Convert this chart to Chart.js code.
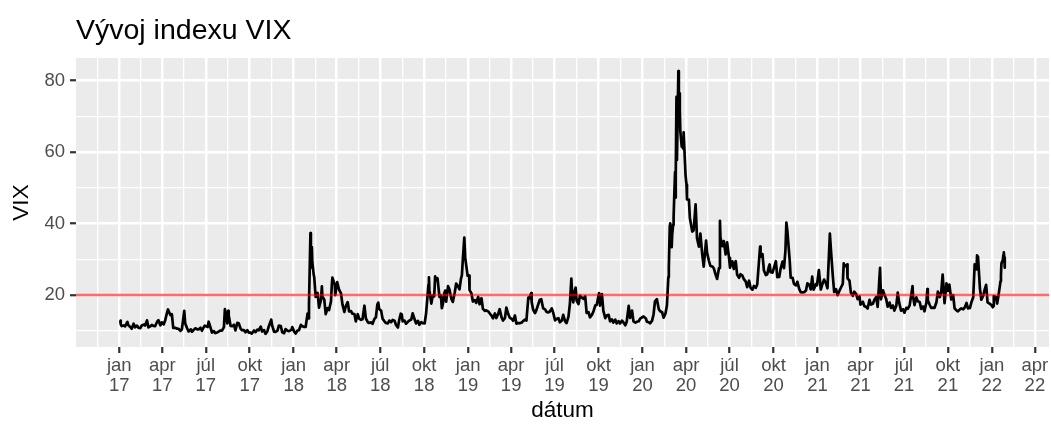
<!DOCTYPE html>
<html lang="sk">
<head>
<meta charset="UTF-8">
<title>Vývoj indexu VIX</title>
<script src="https://cdn.jsdelivr.net/npm/chart.js"></script>
<style>
    html, body { margin: 0; padding: 0; background: #ffffff; }
</style>
</head>
<body>
<canvas id="chart" width="1051" height="425"></canvas>
<script>
// záverečné hodnoty VIX odčítané z grafu: piatky + výkyvy
const dni2017 = ['2017-01-03','2017-01-06','2017-01-13','2017-01-20','2017-01-27','2017-02-03','2017-02-10','2017-02-17','2017-02-24','2017-03-03','2017-03-10','2017-03-17','2017-03-21','2017-03-24','2017-03-31','2017-04-07','2017-04-13','2017-04-18','2017-04-21','2017-04-24','2017-04-28','2017-05-05','2017-05-09','2017-05-12','2017-05-17','2017-05-19','2017-05-26','2017-06-02','2017-06-09','2017-06-16','2017-06-23','2017-06-29','2017-07-07','2017-07-14','2017-07-21','2017-07-26','2017-08-04','2017-08-10','2017-08-11','2017-08-17','2017-08-18','2017-08-25','2017-09-01','2017-09-08','2017-09-15','2017-09-22','2017-09-29','2017-10-05','2017-10-13','2017-10-20','2017-10-27','2017-11-03','2017-11-10','2017-11-15','2017-11-17','2017-11-24','2017-12-01','2017-12-08','2017-12-15','2017-12-22','2017-12-29'];
const vix2017 = [12.85,11.32,11.23,11.54,10.58,10.97,10.85,11.49,11.47,10.96,11.66,11.28,12.47,12.96,12.37,12.87,15.96,14.42,14.63,10.84,10.82,10.57,9.96,10.40,15.59,12.04,9.81,9.75,10.70,10.38,10.02,11.44,12.54,9.51,9.36,9.60,10.03,16.04,15.51,15.55,14.26,11.28,10.13,12.12,10.17,9.59,9.51,9.19,9.61,10.15,9.80,9.14,11.29,13.13,11.43,9.67,11.43,9.58,10.49,9.90,11.04];
// stredy týždňov
const dniStred2017 = ['2017-01-04','2017-01-10','2017-01-18','2017-01-24','2017-01-31','2017-02-07','2017-02-14','2017-02-22','2017-02-28','2017-03-07','2017-03-14','2017-03-28','2017-04-04','2017-04-11','2017-04-26','2017-05-02','2017-05-23','2017-05-31','2017-06-07','2017-06-13','2017-06-20','2017-06-27','2017-07-05','2017-07-11','2017-07-18','2017-08-01','2017-08-08','2017-08-15','2017-08-22','2017-08-29','2017-09-05','2017-09-12','2017-09-19','2017-09-26','2017-10-03','2017-10-10','2017-10-17','2017-10-24','2017-10-31','2017-11-07','2017-11-21','2017-11-28','2017-12-05','2017-12-12','2017-12-19','2017-12-27'];
const vixStred2017 = [11.85,11.49,12.48,11.07,11.99,11.45,10.74,11.74,12.92,11.24,11.35,11.53,11.79,15.07,10.85,10.59,10.72,10.41,10.39,10.42,10.86,11.06,11.07,10.89,9.89,10.09,11.00,12.04,11.35,11.70,12.23,10.58,10.18,10.17,9.51,10.08,10.31,11.16,10.18,9.89,9.73,10.03,11.33,9.34,10.03,10.25];

const dni2018 = ['2018-01-05','2018-01-12','2018-01-19','2018-01-26','2018-01-30','2018-02-02','2018-02-05','2018-02-06','2018-02-07','2018-02-08','2018-02-09','2018-02-13','2018-02-16','2018-02-23','2018-03-01','2018-03-02','2018-03-09','2018-03-16','2018-03-22','2018-03-23','2018-03-28','2018-03-29','2018-04-02','2018-04-06','2018-04-13','2018-04-20','2018-04-27','2018-05-04','2018-05-11','2018-05-18','2018-05-25','2018-05-29','2018-06-01','2018-06-08','2018-06-15','2018-06-22','2018-06-27','2018-06-29','2018-07-06','2018-07-13','2018-07-20','2018-07-27','2018-08-03','2018-08-10','2018-08-13','2018-08-17','2018-08-24','2018-08-31','2018-09-07','2018-09-14','2018-09-21','2018-09-28','2018-10-05','2018-10-10','2018-10-11','2018-10-12','2018-10-19','2018-10-24','2018-10-26','2018-10-29','2018-11-02','2018-11-07','2018-11-09','2018-11-12','2018-11-16','2018-11-20','2018-11-23','2018-11-30','2018-12-04','2018-12-07','2018-12-14','2018-12-17','2018-12-21','2018-12-24','2018-12-26','2018-12-28','2018-12-31'];
const vix2018 = [9.22,10.16,11.27,11.08,14.79,17.31,37.32,29.98,27.73,33.46,29.06,24.97,19.46,16.49,22.47,19.59,14.64,15.80,23.34,24.87,22.87,19.97,23.62,21.49,17.41,16.88,15.41,14.77,12.65,13.42,13.22,17.02,13.46,12.18,11.98,13.77,17.91,16.09,13.37,12.18,12.86,13.03,11.64,13.16,14.78,12.64,11.99,12.86,14.88,12.07,11.68,12.12,14.82,22.96,24.98,21.31,19.89,25.23,24.16,24.70,19.51,16.36,17.36,20.45,18.14,22.48,21.52,18.07,20.74,23.23,21.63,24.52,30.11,36.07,30.41,28.34,25.42];
const dniStred2018 = ['2018-01-02','2018-01-09','2018-01-16','2018-01-23','2018-02-01','2018-02-12','2018-02-20','2018-02-27','2018-03-06','2018-03-13','2018-03-20','2018-04-10','2018-04-17','2018-04-24','2018-05-01','2018-05-08','2018-05-15','2018-05-22','2018-06-05','2018-06-12','2018-06-19','2018-06-25','2018-07-03','2018-07-10','2018-07-17','2018-07-24','2018-07-31','2018-08-07','2018-08-15','2018-08-21','2018-08-28','2018-09-04','2018-09-11','2018-09-18','2018-09-25','2018-10-02','2018-10-16','2018-10-22','2018-11-05','2018-11-14','2018-11-27','2018-12-10','2018-12-19'];
const vixStred2018 = [9.77,10.08,11.66,11.10,13.47,25.61,20.60,18.59,18.73,16.35,18.20,20.47,15.25,18.02,15.49,14.71,14.63,13.08,12.40,12.35,13.35,17.33,15.60,12.64,12.06,12.41,12.83,10.93,14.64,12.86,12.50,13.16,13.22,12.79,12.42,12.05,17.62,19.64,19.96,21.25,18.90,22.64,25.58];

const dni2019 = ['2019-01-03','2019-01-04','2019-01-11','2019-01-18','2019-01-25','2019-02-01','2019-02-08','2019-02-15','2019-02-22','2019-03-01','2019-03-08','2019-03-15','2019-03-22','2019-03-29','2019-04-05','2019-04-12','2019-04-18','2019-04-26','2019-05-03','2019-05-07','2019-05-13','2019-05-17','2019-05-24','2019-05-31','2019-06-03','2019-06-07','2019-06-14','2019-06-21','2019-06-28','2019-07-05','2019-07-12','2019-07-19','2019-07-26','2019-08-02','2019-08-05','2019-08-09','2019-08-14','2019-08-16','2019-08-23','2019-08-30','2019-09-06','2019-09-13','2019-09-20','2019-09-27','2019-10-02','2019-10-04','2019-10-08','2019-10-11','2019-10-18','2019-10-25','2019-11-01','2019-11-08','2019-11-15','2019-11-22','2019-11-29','2019-12-03','2019-12-06','2019-12-13','2019-12-20','2019-12-27','2019-12-31'];
const vix2019 = [25.45,21.38,18.19,17.80,17.42,16.14,15.72,14.91,13.51,13.57,16.05,12.88,16.48,13.71,12.82,12.01,12.09,12.73,12.87,19.32,20.55,15.96,15.85,18.71,18.86,16.30,15.28,15.40,15.08,13.28,12.39,14.45,12.16,17.61,24.59,17.97,22.10,18.47,19.87,18.98,15.00,13.74,15.32,17.22,20.56,17.04,20.28,15.58,14.25,12.65,12.30,12.07,12.05,12.34,12.62,16.97,13.62,12.63,12.51,13.43,13.78];
const dniStred2019 = ['2019-01-08','2019-01-15','2019-01-22','2019-01-29','2019-02-05','2019-02-12','2019-02-20','2019-02-26','2019-03-05','2019-03-12','2019-03-19','2019-03-26','2019-04-02','2019-04-09','2019-04-16','2019-04-23','2019-04-30','2019-05-09','2019-05-14','2019-05-21','2019-05-28','2019-06-11','2019-06-18','2019-06-25','2019-07-02','2019-07-09','2019-07-16','2019-07-23','2019-07-30','2019-08-07','2019-08-12','2019-08-20','2019-08-27','2019-09-03','2019-09-10','2019-09-17','2019-09-24','2019-10-15','2019-10-22','2019-10-29','2019-11-05','2019-11-12','2019-11-19','2019-11-26','2019-12-10','2019-12-17','2019-12-24'];
const vixStred2019 = [20.47,18.60,19.52,19.13,15.57,15.43,14.02,14.85,14.74,13.77,13.56,14.68,13.36,14.28,12.18,12.28,13.12,19.10,18.06,14.95,17.50,15.99,15.15,16.28,12.93,13.53,12.86,12.61,13.94,19.49,21.09,17.50,19.35,19.66,15.20,14.44,17.05,13.54,14.46,13.20,13.10,12.68,12.86,11.54,15.68,12.29,12.67];

const dni2020 = ['2020-01-03','2020-01-08','2020-01-10','2020-01-17','2020-01-24','2020-01-27','2020-01-31','2020-02-07','2020-02-14','2020-02-21','2020-02-24','2020-02-25','2020-02-27','2020-02-28','2020-03-02','2020-03-03','2020-03-05','2020-03-06','2020-03-09','2020-03-10','2020-03-11','2020-03-12','2020-03-13','2020-03-16','2020-03-17','2020-03-18','2020-03-19','2020-03-20','2020-03-23','2020-03-24','2020-03-26','2020-03-27','2020-03-31','2020-04-02','2020-04-03','2020-04-09','2020-04-14','2020-04-17','2020-04-21','2020-04-24','2020-05-01','2020-05-08','2020-05-13','2020-05-15','2020-05-22','2020-05-29','2020-06-05','2020-06-11','2020-06-12','2020-06-19','2020-06-26','2020-07-02','2020-07-10','2020-07-17','2020-07-24','2020-07-31','2020-08-07','2020-08-14','2020-08-21','2020-08-28','2020-09-03','2020-09-04','2020-09-08','2020-09-11','2020-09-18','2020-09-23','2020-09-25','2020-10-02','2020-10-09','2020-10-16','2020-10-23','2020-10-28','2020-10-30','2020-11-04','2020-11-06','2020-11-13','2020-11-20','2020-11-27','2020-12-04','2020-12-11','2020-12-18','2020-12-21','2020-12-24','2020-12-31'];
const vix2020 = [14.02,13.45,12.56,12.10,14.56,18.23,18.84,15.47,13.68,17.08,25.03,27.85,39.16,40.11,33.42,36.82,39.62,41.94,54.46,47.30,53.90,75.47,57.83,82.69,75.91,76.45,72.00,66.04,61.59,61.67,61.00,65.54,53.54,50.91,46.80,41.67,37.76,38.15,45.41,35.93,37.19,27.98,35.28,31.89,28.16,27.51,24.52,40.79,36.09,35.12,34.73,27.68,27.29,25.68,25.84,24.46,22.21,22.05,22.54,22.96,33.60,30.75,31.46,26.87,25.83,28.58,26.38,27.63,25.00,27.41,27.55,40.28,38.02,29.57,24.86,23.10,23.70,20.84,20.79,23.31,21.57,25.16,21.53,22.75];
const dniStred2020 = ['2020-01-14','2020-01-21','2020-02-04','2020-02-11','2020-02-18','2020-04-07','2020-04-28','2020-05-05','2020-05-19','2020-05-26','2020-06-02','2020-06-09','2020-06-16','2020-06-23','2020-06-30','2020-07-07','2020-07-14','2020-07-21','2020-07-28','2020-08-04','2020-08-11','2020-08-18','2020-08-25','2020-09-15','2020-09-21','2020-09-29','2020-10-06','2020-10-13','2020-10-20','2020-10-26','2020-11-10','2020-11-17','2020-11-24','2020-12-01','2020-12-08','2020-12-15','2020-12-29'];
const vixStred2020 = [12.39,12.85,16.05,15.18,14.83,46.70,33.57,31.23,29.53,28.01,25.66,27.57,33.67,31.37,30.43,29.43,29.52,24.84,25.44,23.76,24.03,21.51,22.03,25.59,27.78,26.27,29.48,25.07,29.35,32.46,24.80,22.71,21.64,20.77,21.30,22.89,23.08];

const dni2021 = ['2021-01-04','2021-01-08','2021-01-15','2021-01-22','2021-01-27','2021-01-29','2021-02-05','2021-02-12','2021-02-19','2021-02-25','2021-02-26','2021-03-04','2021-03-05','2021-03-12','2021-03-19','2021-03-26','2021-04-01','2021-04-09','2021-04-16','2021-04-23','2021-04-30','2021-05-07','2021-05-12','2021-05-14','2021-05-21','2021-05-28','2021-06-04','2021-06-11','2021-06-18','2021-06-25','2021-07-02','2021-07-09','2021-07-19','2021-07-23','2021-07-30','2021-08-06','2021-08-13','2021-08-19','2021-08-20','2021-08-27','2021-09-03','2021-09-10','2021-09-17','2021-09-20','2021-09-24','2021-09-28','2021-10-01','2021-10-04','2021-10-08','2021-10-15','2021-10-22','2021-10-29','2021-11-05','2021-11-12','2021-11-19','2021-11-26','2021-11-30','2021-12-01','2021-12-03','2021-12-10','2021-12-17','2021-12-20','2021-12-23','2021-12-31'];
const vix2021 = [26.97,21.56,24.34,21.91,37.21,33.09,20.87,19.97,22.05,28.89,27.95,28.57,24.66,20.69,20.95,18.86,17.33,16.95,16.25,17.33,18.61,16.69,27.59,18.81,20.15,16.76,16.42,15.65,20.70,15.62,15.07,16.18,22.50,17.20,18.24,16.15,15.45,21.67,18.56,16.39,16.41,20.95,20.81,25.71,17.75,23.25,21.15,22.96,18.77,16.30,15.43,16.26,16.48,16.29,17.91,28.62,27.19,31.12,30.67,18.69,21.57,22.87,17.96,17.22];
const dniStred2021 = ['2021-01-12','2021-01-19','2021-02-02','2021-02-09','2021-02-17','2021-02-23','2021-03-09','2021-03-16','2021-03-23','2021-03-30','2021-04-06','2021-04-13','2021-04-20','2021-04-27','2021-05-04','2021-05-18','2021-05-25','2021-06-01','2021-06-08','2021-06-15','2021-06-21','2021-06-29','2021-07-06','2021-07-13','2021-07-20','2021-07-27','2021-08-03','2021-08-10','2021-08-17','2021-08-24','2021-08-31','2021-09-07','2021-09-14','2021-10-12','2021-10-19','2021-10-26','2021-11-02','2021-11-09','2021-11-16','2021-11-23','2021-12-07','2021-12-14','2021-12-28'];
const vixStred2021 = [23.33,23.24,25.56,21.63,21.50,23.11,24.03,19.79,20.30,19.61,18.12,16.65,18.68,17.56,19.48,21.34,18.84,17.90,17.07,17.02,17.89,16.02,16.44,17.12,19.73,19.36,18.04,16.79,17.91,17.22,16.48,18.00,19.46,20.00,15.70,15.98,16.03,17.78,16.37,19.38,21.89,19.89,17.54];

const dni2022 = ['2022-01-03','2022-01-04','2022-01-05','2022-01-06','2022-01-07','2022-01-10','2022-01-12','2022-01-14','2022-01-18','2022-01-19','2022-01-20','2022-01-21','2022-01-24','2022-01-25','2022-01-26','2022-01-27','2022-01-28'];
const vix2022 = [16.60,16.91,19.73,19.61,18.76,19.40,17.62,19.19,22.79,23.85,25.59,28.85,29.90,31.16,31.96,30.49,27.66];

// popisky osi x (začiatky štvrťrokov)
const xTickDates = ['2017-01-01','2017-04-01','2017-07-01','2017-10-01','2018-01-01','2018-04-01','2018-07-01','2018-10-01','2019-01-01','2019-04-01','2019-07-01','2019-10-01','2020-01-01','2020-04-01','2020-07-01','2020-10-01','2021-01-01','2021-04-01','2021-07-01','2021-10-01','2022-01-01','2022-04-01'];
const xTickLabels = [['jan','17'],['apr','17'],['júl','17'],['okt','17'],['jan','18'],['apr','18'],['júl','18'],['okt','18'],['jan','19'],['apr','19'],['júl','19'],['okt','19'],['jan','20'],['apr','20'],['júl','20'],['okt','20'],['jan','21'],['apr','21'],['júl','21'],['okt','21'],['jan','22'],['apr','22']];
const yTicks = [20, 40, 60, 80];
const prah = 20;

// dátum -> počet dní od 1.1.2017
const epoch = Date.UTC(2017, 0, 1);
function naDen(s) {
    const [y, m, d] = s.split('-').map(Number);
    return (Date.UTC(y, m - 1, d) - epoch) / 86400000;
}

const dni = [].concat(dni2017, dniStred2017, dni2018, dniStred2018, dni2019, dniStred2019,
    dni2020, dniStred2020, dni2021, dniStred2021, dni2022);
const vix = [].concat(vix2017, vixStred2017, vix2018, vixStred2018, vix2019, vixStred2019,
    vix2020, vixStred2020, vix2021, vixStred2021, vix2022);
const body = dni.map((d, i) => ({ x: naDen(d), y: vix[i] })).sort((a, b) => a.x - b.x);

// rozšírenie rozsahu o 5 % ako v ggplot2
const x0 = body[0].x, x1 = body[body.length - 1].x;
const xMin = x0 - 0.05 * (x1 - x0), xMax = x1 + 0.05 * (x1 - x0);
const yLo = Math.min(...vix), yHi = Math.max(...vix);
const yMin = yLo - 0.05 * (yHi - yLo), yMax = yHi + 0.05 * (yHi - yLo);

const xMajor = xTickDates.map(naDen);
const xLabelMap = new Map(xMajor.map((v, i) => [v, xTickLabels[i]]));
const xAll = [(naDen('2016-10-01') + xMajor[0]) / 2];
xMajor.forEach((v, i) => {
    xAll.push(v);
    if (i < xMajor.length - 1) xAll.push((v + xMajor[i + 1]) / 2);
});
const xTicksAll = xAll.filter(v => v >= xMin && v <= xMax);
const xMajorSet = new Set(xMajor);

const yAll = [];
yTicks.forEach(v => { yAll.push(v - 10, v); });
const yTicksAll = yAll.filter(v => v >= yMin && v <= yMax);
const yMajorSet = new Set(yTicks);

const fontFamily = '"Liberation Sans", Arial, Helvetica, sans-serif';

const panelBg = {
    id: 'panelBg',
    beforeDraw(chart) {
        const { ctx, chartArea: a } = chart;
        ctx.save();
        ctx.fillStyle = '#EBEBEB';
        ctx.fillRect(a.left, a.top, a.right - a.left, a.bottom - a.top);
        ctx.restore();
    }
};

const nadpis = {
    id: 'nadpis',
    afterDraw(chart) {
        const { ctx, chartArea: a } = chart;
        ctx.save();
        ctx.font = '28.5px ' + fontFamily;
        ctx.fillStyle = '#000000';
        ctx.textBaseline = 'alphabetic';
        ctx.textAlign = 'left';
        ctx.fillText('Vývoj indexu VIX', a.left, 39);
        ctx.restore();
    }
};

new Chart(document.getElementById('chart'), {
    type: 'line',
    data: {
        datasets: [
            {
                label: 'prah',
                data: [{ x: xMin, y: prah }, { x: xMax, y: prah }],
                borderColor: 'rgba(255, 0, 0, 0.58)',
                borderWidth: 2.6,
                pointRadius: 0,
                order: 0
            },
            {
                label: 'VIX',
                data: body,
                borderColor: '#000000',
                borderWidth: 2.7,
                borderJoinStyle: 'round',
                pointRadius: 0,
                tension: 0,
                order: 1
            }
        ]
    },
    options: {
        responsive: false,
        animation: false,
        layout: { padding: { top: 58, right: 2, bottom: 0, left: 0 } },
        plugins: {
            legend: { display: false },
            tooltip: { enabled: false }
        },
        scales: {
            x: {
                type: 'linear',
                min: xMin,
                max: xMax,
                afterBuildTicks: s => { s.ticks = xTicksAll.map(v => ({ value: v })); },
                afterFit: s => { s.height = 78; s.paddingLeft = 0; s.paddingRight = 0; },
                border: { display: false },
                grid: {
                    color: '#FFFFFF',
                    lineWidth: c => (c.tick && xMajorSet.has(c.tick.value)) ? 2.5 : 1.3,
                    tickColor: c => (c.tick && xMajorSet.has(c.tick.value)) ? '#333333' : 'rgba(0,0,0,0)',
                    tickWidth: 2.2,
                    tickLength: 6
                },
                ticks: {
                    autoSkip: false,
                    maxRotation: 0,
                    minRotation: 0,
                    padding: 3,
                    color: '#4D4D4D',
                    font: { family: fontFamily, size: 18.5, lineHeight: 1.08 },
                    callback: v => xLabelMap.has(v) ? xLabelMap.get(v) : ''
                },
                title: {
                    display: true,
                    text: 'dátum',
                    color: '#000000',
                    font: { family: fontFamily, size: 22.5 },
                    padding: { top: 0, bottom: 1 }
                }
            },
            y: {
                type: 'linear',
                min: yMin,
                max: yMax,
                afterBuildTicks: s => { s.ticks = yTicksAll.map(v => ({ value: v })); },
                afterFit: s => { s.width = 76; s.paddingTop = 0; s.paddingBottom = 0; },
                border: { display: false },
                grid: {
                    color: '#FFFFFF',
                    lineWidth: c => (c.tick && yMajorSet.has(c.tick.value)) ? 2.5 : 1.3,
                    tickColor: c => (c.tick && yMajorSet.has(c.tick.value)) ? '#333333' : 'rgba(0,0,0,0)',
                    tickWidth: 2.2,
                    tickLength: 6
                },
                ticks: {
                    padding: 5,
                    color: '#4D4D4D',
                    font: { family: fontFamily, size: 18.5 },
                    callback: v => yMajorSet.has(v) ? String(v) : ''
                },
                title: {
                    display: true,
                    text: 'VIX',
                    color: '#000000',
                    font: { family: fontFamily, size: 22.5 },
                    padding: { top: 8, bottom: 0 }
                }
            }
        }
    },
    plugins: [panelBg, nadpis]
});
</script>
</body>
</html>
